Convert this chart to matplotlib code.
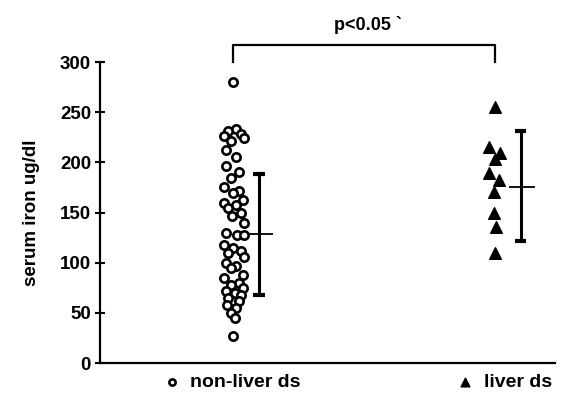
import numpy as np
import matplotlib.pyplot as plt

plt.rcParams['font.family'] = ['Liberation Sans', 'DejaVu Sans']
plt.rcParams['font.weight'] = 'bold'

# serum iron values
non_liver = [280, 233, 231, 228, 226, 224, 221, 212, 205, 196, 190, 185,
             176, 172, 170, 163, 160, 158, 155, 150, 147, 140, 130, 128,
             128, 118, 115, 112, 110, 106, 100, 97, 95, 88, 85, 80, 78,
             75, 72, 70, 68, 65, 62, 58, 55, 50, 45, 27]
non_liver_jit = [0.0, 0.01, -0.02, 0.03, -0.035, 0.04, -0.01, -0.03, 0.01,
                 -0.03, 0.02, -0.01, -0.035, 0.02, 0.0, 0.035, -0.035, 0.01,
                 -0.02, 0.03, -0.005, 0.04, -0.03, 0.015, 0.04, -0.035, 0.0,
                 0.03, -0.02, 0.04, -0.03, 0.01, -0.01, 0.035, -0.035, 0.02,
                 -0.01, 0.035, -0.03, 0.005, 0.03, -0.02, 0.02, -0.025, 0.01,
                 -0.01, 0.005, 0.0]
liver = [255, 215, 209, 203, 189, 183, 171, 150, 136, 110]
liver_jit = [0.0, -0.025, 0.02, 0.0, -0.025, 0.015, -0.005, -0.005, 0.005, 0.0]

# mean and spread (as drawn)
means = [129, 176]
lows = [68, 122]
highs = [188, 231]
groups = [1, 2]

fig = plt.figure(figsize=(5.62, 4.0), dpi=100)
ax = fig.add_axes([0.178, 0.0925, 0.81, 0.752])

ax.scatter(np.array(groups[0]) + np.array(non_liver_jit), non_liver, s=36,
           facecolors='white', edgecolors='black', linewidths=1.9, zorder=3,
           label='non-liver ds')
ax.scatter(np.array(groups[1]) + np.array(liver_jit), liver, s=70, marker='^',
           color='black', zorder=3, label='liver ds')

bar_x = [g + 0.098 for g in groups]
for bx, m, lo, hi in zip(bar_x, means, lows, highs):
    ax.vlines(bx, lo, hi, color='black', lw=2.2)
    ax.hlines([lo, hi], bx - 0.022, bx + 0.022, color='black', lw=3)
    ax.hlines(m, bx - 0.045, bx + 0.055, color='black', lw=1.3)

# significance bracket
ax.plot([groups[0], groups[0], groups[1], groups[1]], [300, 317, 317, 300],
        color='black', lw=1.6, clip_on=False)
ax.text(np.mean(groups) + 0.015, 328, 'p<0.05 `', ha='center', va='bottom',
        fontsize=13, fontweight='bold')

ax.set_xlim(0.49, 2.23)
ax.set_ylim(0, 300)
ax.set_yticks(range(0, 301, 50))
ax.set_xticks([])
ax.tick_params(axis='y', direction='inout', length=7, width=1.5, labelsize=13.5, pad=3)
for lab in ax.get_yticklabels():
    lab.set_fontweight('bold')
for s in ['top', 'right']:
    ax.spines[s].set_visible(False)
for s in ['left', 'bottom']:
    ax.spines[s].set_linewidth(1.6)
ax.set_ylabel('serum iron ug/dl', fontsize=13.5, fontweight='bold', labelpad=14)

ax.legend(loc='upper center', bbox_to_anchor=(0.57, -0.035), ncol=2, frameon=False,
          prop={'size': 14, 'weight': 'bold'}, handlelength=0.5,
          handletextpad=0.7, columnspacing=8.2, markerscale=0.75,
          borderpad=0, borderaxespad=0)

fig.savefig('out.png', dpi=100)
